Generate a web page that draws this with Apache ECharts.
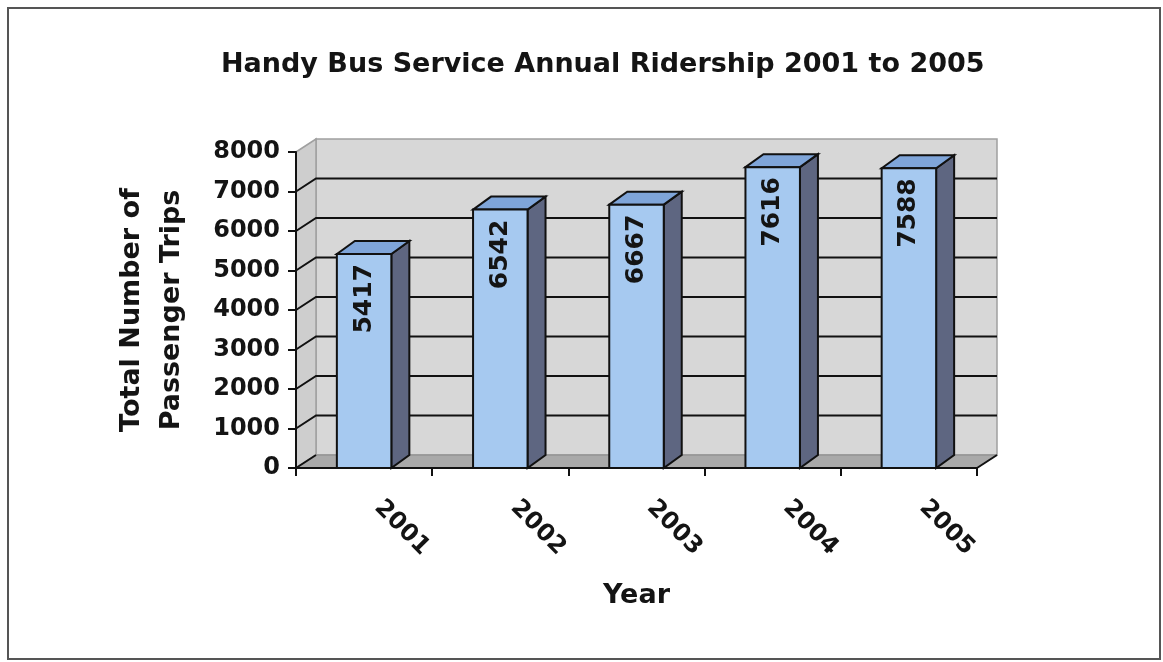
<!DOCTYPE html>
<html><head><meta charset="utf-8">
<script src="https://cdn.jsdelivr.net/npm/echarts@6/dist/echarts.min.js"></script>
<style>html,body{margin:0;padding:0;background:#fff}#c{width:1163px;height:662px}</style>
</head><body><div id="c"></div>
<script>
const categories = ['2001', '2002', '2003', '2004', '2005'];
const ridership = [5417, 6542, 6667, 7616, 7588];
const yTicks = [0, 1000, 2000, 3000, 4000, 5000, 6000, 7000, 8000];
const titleText = 'Handy Bus Service Annual Ridership 2001 to 2005';
const yName = 'Total Number of\nPassenger Trips';
const xName = 'Year';

const FONT = 'DejaVu Sans';
const TXT = '#141414';
const WALL_DX = 20, WALL_DY = -13;
const BAR_DX = 18, BAR_DY = -13;

const chart = echarts.init(document.getElementById('c'), null, {renderer: 'canvas'});

function renderWalls(params, api) {
  const cs = params.coordSys;
  const x0 = cs.x, x1 = cs.x + cs.width;
  const yMin = api.coord([0, yTicks[0]])[1];
  const yMax = api.coord([0, yTicks[yTicks.length - 1]])[1];
  const ch = [];
  ch.push({type: 'rect', shape: {x: x0 + WALL_DX, y: yMax + WALL_DY, width: x1 - x0, height: yMin - yMax},
    style: {fill: '#d7d7d7', stroke: '#a0a0a0', lineWidth: 1.5}});
  ch.push({type: 'polygon', shape: {points: [[x0, yMax], [x0 + WALL_DX, yMax + WALL_DY], [x0 + WALL_DX, yMin + WALL_DY], [x0, yMin]]},
    style: {fill: '#cecece', stroke: '#a0a0a0', lineWidth: 1.5}});
  ch.push({type: 'polygon', shape: {points: [[x0, yMin], [x0 + WALL_DX, yMin + WALL_DY], [x1 + WALL_DX, yMin + WALL_DY], [x1, yMin]]},
    style: {fill: '#a9a9a9', stroke: '#8a8a8a', lineWidth: 1}});
  yTicks.forEach(function (t, k) {
    const y = api.coord([0, t])[1];
    if (k === 0) {
      ch.push({type: 'polyline', shape: {points: [[x0, y], [x0 + WALL_DX, y + WALL_DY]]}, style: {stroke: '#111', lineWidth: 2, fill: null}});
      ch.push({type: 'polyline', shape: {points: [[x1, y], [x1 + WALL_DX, y + WALL_DY]]}, style: {stroke: '#111', lineWidth: 2, fill: null}});
      return;
    }
    if (k === yTicks.length - 1) return;
    ch.push({type: 'polyline', shape: {points: [[x0, y], [x0 + WALL_DX, y + WALL_DY], [x1 + WALL_DX, y + WALL_DY]]},
      style: {stroke: '#111', lineWidth: 2, fill: null}});
  });
  return {type: 'group', children: ch};
}

function renderBar(params, api) {
  const i = api.value(0), v = api.value(1);
  const base = api.coord([i, 0]);
  const top = api.coord([i, v]);
  const bw = api.size([1, 0])[0] * 0.4;
  const xl = base[0] - bw / 2, xr = base[0] + bw / 2;
  const yt = top[1], yb = base[1];
  return {type: 'group', children: [
    {type: 'polygon', shape: {points: [[xr, yt], [xr + BAR_DX, yt + BAR_DY], [xr + BAR_DX, yb + BAR_DY], [xr, yb]]},
      style: {fill: '#5e6681', stroke: '#111', lineWidth: 2}},
    {type: 'polygon', shape: {points: [[xl, yt], [xl + BAR_DX, yt + BAR_DY], [xr + BAR_DX, yt + BAR_DY], [xr, yt]]},
      style: {fill: '#7fa5d9', stroke: '#111', lineWidth: 2}},
    {type: 'rect', shape: {x: xl, y: yt, width: bw, height: yb - yt},
      style: {fill: '#a6c9f0', stroke: '#111', lineWidth: 2}},
    {type: 'text', x: base[0], y: yt + 10, rotation: Math.PI / 2,
      style: {text: String(v), fill: TXT, fontFamily: FONT, fontWeight: 'bold', fontSize: 25, align: 'right', verticalAlign: 'middle'}}
  ]};
}

const boldText = function (size) { return {fontFamily: FONT, fontWeight: 'bold', fontSize: size, color: TXT}; };

const option = {
  backgroundColor: '#ffffff',
  animation: false,
  title: {text: titleText, left: 216, top: 46, textStyle: boldText(27)},
  grid: {left: 296, top: 152, width: 681, height: 316, outerBoundsMode: 'none'},
  xAxis: {
    type: 'category', data: categories, z: 10,
    name: xName, nameLocation: 'middle', nameGap: 114, nameTextStyle: boldText(27),
    axisLine: {lineStyle: {color: '#111', width: 2}},
    axisTick: {show: true, length: 8, lineStyle: {color: '#111', width: 2}},
    axisLabel: Object.assign({rotate: -45, margin: 22, padding: [0, 0, 0, 20]}, boldText(24)),
    splitLine: {show: false}
  },
  yAxis: {
    type: 'value', z: 10,
    min: yTicks[0], max: yTicks[yTicks.length - 1], interval: yTicks[1] - yTicks[0],
    name: yName, nameLocation: 'middle', nameRotate: 90, nameGap: 104,
    nameTextStyle: Object.assign({lineHeight: 40}, boldText(27)),
    axisLine: {show: true, lineStyle: {color: '#111', width: 2}},
    axisTick: {show: true, length: 8, lineStyle: {color: '#111', width: 2}},
    axisLabel: Object.assign({margin: 16, formatter: function (v) { return String(v); }}, boldText(24)),
    splitLine: {show: false}
  },
  graphic: [{type: 'rect', shape: {x: 8, y: 8, width: 1152, height: 651}, style: {fill: null, stroke: '#555', lineWidth: 2}, silent: true}],
  series: [
    {type: 'custom', name: 'walls', z: 1, clip: false, silent: true, renderItem: renderWalls, data: [[0, 0]]},
    {type: 'custom', name: 'Ridership', z: 3, clip: false, silent: true, renderItem: renderBar,
      data: ridership.map(function (v, i) { return [i, v]; })}
  ]
};
chart.setOption(option);
</script></body></html>
